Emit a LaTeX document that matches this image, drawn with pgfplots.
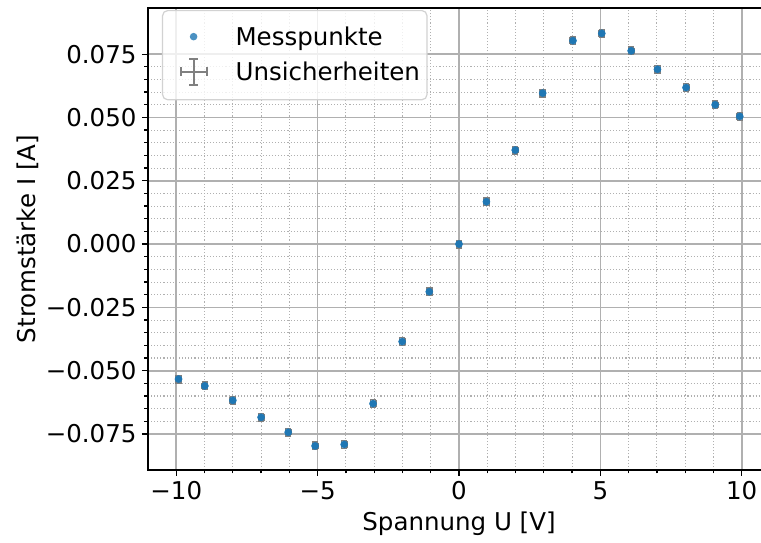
\documentclass[border=0pt]{standalone}
\usepackage{pgfplots}
\pgfplotsset{compat=1.18}
\usepackage{fontspec}
\setmainfont{DejaVu Sans}
\definecolor{tabblue}{HTML}{1F77B4}
\definecolor{gridgray}{HTML}{B0B0B0}
\definecolor{errgray}{HTML}{808080}
\pgfplotstableread{
x y ex ey
-9.92 -0.0533 0.1 0.0015
-8.99 -0.0560 0.1 0.0015
-8.00 -0.0617 0.1 0.0015
-7.00 -0.0684 0.1 0.0015
-6.04 -0.0743 0.1 0.0015
-5.09 -0.0797 0.1 0.0015
-4.06 -0.0791 0.1 0.0015
-3.04 -0.0630 0.1 0.0015
-2.01 -0.0385 0.1 0.0015
-1.05 -0.0188 0.1 0.0015
0.00 0.0000 0.1 0.0015
0.97 0.0167 0.1 0.0015
1.99 0.0371 0.1 0.0015
2.96 0.0596 0.1 0.0015
4.03 0.0803 0.1 0.0015
5.05 0.0832 0.1 0.0015
6.09 0.0763 0.1 0.0015
7.02 0.0690 0.1 0.0015
8.03 0.0618 0.1 0.0015
9.06 0.0550 0.1 0.0015
9.93 0.0504 0.1 0.0015
}\datatable
\begin{document}
\begin{tikzpicture}
\clip (-148pt,-73pt) rectangle (613pt,470pt);
\begin{axis}[
  at={(0pt,0pt)}, anchor=south west,
  scale only axis, width=622pt, height=462pt,
  xmin=-11, xmax=11, ymin=-0.0892, ymax=0.0932,
  axis line style={black, line width=1.4pt},
  xtick={-10,-5,0,5,10},
  xticklabels={−10,−5,0,5,10},
  ytick={-0.075,-0.05,-0.025,0,0.025,0.05,0.075},
  yticklabels={−0.075,−0.050,−0.025,0.000,0.025,0.050,0.075},
  minor x tick num=4, minor y tick num=4,
  tick align=outside, tick pos=left,
  major tick length=6pt, minor tick length=3.5pt,
  every tick/.style={black, line width=1.2pt},
  grid=both,
  major grid style={gridgray, line width=1.6pt},
  minor grid style={gridgray, line width=1.1pt, dotted},
  tick label style={font=\fontsize{24.5}{29}\selectfont},
  xticklabel style={anchor=base, yshift=-24pt},
  yticklabel style={anchor=east, xshift=-2pt},
  label style={font=\fontsize{24.5}{29}\selectfont},
  xlabel={Spannung U [V]},
  ylabel={Stromstärke I [A]},
  xlabel style={at={(rel axis cs:0.5,0)}, anchor=center, yshift=-54pt},
  ylabel style={at={(rel axis cs:0,0.5)}, anchor=center, yshift=120pt},
  legend style={at={(rel axis cs:0,1)}, anchor=north west, xshift=14pt, yshift=-2pt,
    draw=gray!35, rounded corners=5pt, fill=white, fill opacity=0.8, text opacity=1,
    font=\fontsize{24.5}{29}\selectfont, inner xsep=5pt, inner ysep=14pt,
    row sep=9pt, line width=1.2pt},
  legend cell align=left,
]
\addplot[only marks, mark=none, forget plot,
  error bars/.cd, x dir=both, x explicit, y dir=both, y explicit,
  error bar style={errgray, line width=1.3pt},
  error mark options={errgray, mark size=3.2pt, line width=1.3pt, rotate=90}]
  table[x=x, y=y, x error=ex, y error=ey] {\datatable};
\addplot[only marks, mark=*, mark size=3.6pt, tabblue, mark options={draw=tabblue, fill=tabblue},
  legend image code/.code={\fill[tabblue, draw=none] (26pt,0pt) circle (3.8pt); \path[draw=none, fill=none] (0pt,0pt) -- (66pt,0pt);}]
  table[x=x, y=y] {\datatable};
\addlegendentry{Messpunkte}
\addlegendimage{legend image code/.code={
  \draw[errgray, line width=2pt] (13pt,0pt) -- (39pt,0pt);
  \draw[errgray, line width=2pt] (26pt,-13pt) -- (26pt,13pt);
  \draw[errgray, line width=2pt] (13pt,-4.5pt) -- (13pt,4.5pt);
  \draw[errgray, line width=2pt] (39pt,-4.5pt) -- (39pt,4.5pt);
  \draw[errgray, line width=2pt] (21.5pt,-13pt) -- (30.5pt,-13pt);
  \draw[errgray, line width=2pt] (21.5pt,13pt) -- (30.5pt,13pt);
  \path[draw=none, fill=none] (0pt,0pt) -- (66pt,0pt);}}
\addlegendentry{Unsicherheiten}
\end{axis}
\end{tikzpicture}
\end{document}
